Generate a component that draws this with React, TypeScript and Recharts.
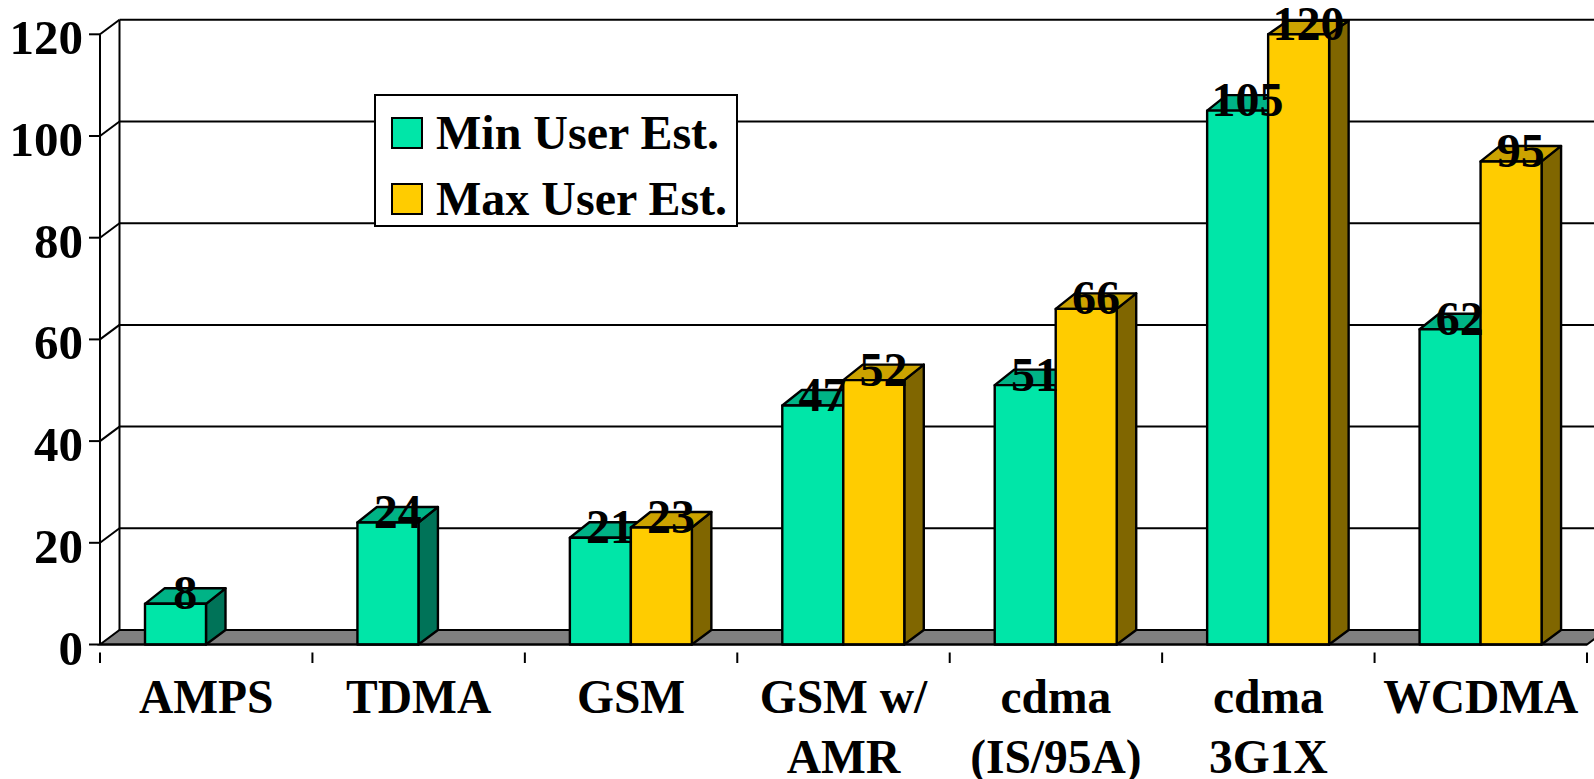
import React from "react";
import { Bar, BarChart, CartesianGrid, LabelList, Legend, XAxis, YAxis } from "recharts";

// Chart data
const categories = ["AMPS", "TDMA", "GSM", "GSM w/\nAMR", "cdma\n(IS/95A)", "cdma\n3G1X", "WCDMA"];
const minUsers = [8, 24, 21, 47, 51, 105, 62];
const maxUsers = [null, null, 23, 52, 66, 120, 95];
const yTicks = [0, 20, 40, 60, 80, 100, 120];

const rows = categories.map((name, i) => ({ name, min: minUsers[i], max: maxUsers[i] }));

// Drawing constants
const WIDTH = 1594;
const HEIGHT = 779;
const LEFT = 100;
const RIGHT_GAP = 7;
const TOP = 34.3;
const BOTTOM_GAP = 134.5;
const BAND = (WIDTH - LEFT - RIGHT_GAP) / categories.length;
const DEPTH_X = 19.5;
const DEPTH_Y = 14.5;
const BAR_DEPTH_Y = 15.5;
const BACK_TOP = TOP - DEPTH_Y;
const FONT = '"Liberation Serif", "Times New Roman", serif';
const FONT_SIZE = 47.5;
const LABEL_SIZE = 48;
const TICK_SIZE = 49;
const LINE = 2;
const BAR_LINE = 2.4;

const MIN_COLORS = { front: "#00E6A8", top: "#00B386", side: "#007358" };
const MAX_COLORS = { front: "#FFCC00", top: "#CCA300", side: "#806600" };

// Back wall line, set one depth step behind the value axis
function BackWallLine(props: any) {
  return (
    <line
      x1={LEFT + DEPTH_X}
      x2={LEFT + DEPTH_X}
      y1={BACK_TOP}
      y2={HEIGHT - BOTTOM_GAP - DEPTH_Y}
      stroke="#000"
      strokeWidth={LINE}
      key={props.key}
    />
  );
}

// Each gridline runs along the back wall and folds down the side wall; the zero line is the floor
function WallGridLine(props: any) {
  const { y1, key } = props;
  const isFloor = Math.abs(y1 - (HEIGHT - BOTTOM_GAP)) < 0.5;
  const xEnd = WIDTH - RIGHT_GAP;
  if (isFloor) {
    return (
      <polygon
        key={key}
        points={`${LEFT},${y1} ${LEFT + DEPTH_X},${y1 - DEPTH_Y} ${xEnd + DEPTH_X},${y1 - DEPTH_Y} ${xEnd},${y1}`}
        fill="#808080"
        stroke="#000"
        strokeWidth={LINE}
      />
    );
  }
  return (
    <g key={key}>
      <line x1={LEFT} y1={y1} x2={LEFT + DEPTH_X} y2={y1 - DEPTH_Y} stroke="#000" strokeWidth={LINE} />
      <line x1={LEFT + DEPTH_X} y1={y1 - DEPTH_Y} x2={WIDTH} y2={y1 - DEPTH_Y} stroke="#000" strokeWidth={LINE} />
    </g>
  );
}

function makeBox3D(colors: { front: string; top: string; side: string }) {
  return function Box3D(props: any) {
    const { x, y, width, height, value } = props;
    if (value == null || !height) return <g />;
    const val = Array.isArray(value) ? value[1] : value;
    if (val == null) return <g />;
    const bottom = y + height;
    const backY = Math.max(y - BAR_DEPTH_Y, BACK_TOP + 1);
    const right = x + width;
    return (
      <g stroke="#000" strokeWidth={BAR_LINE} strokeLinejoin="round">
        <polygon
          points={`${right},${y} ${right + DEPTH_X},${backY} ${right + DEPTH_X},${bottom - DEPTH_Y} ${right},${bottom}`}
          fill={colors.side}
        />
        <polygon
          points={`${x},${y} ${x + DEPTH_X},${backY} ${right + DEPTH_X},${backY} ${right},${y}`}
          fill={colors.top}
        />
        <rect x={x} y={y} width={width} height={height} fill={colors.front} />
      </g>
    );
  };
}

function ValueLabel(props: any) {
  const { x, y, width, value } = props;
  if (value == null) return null;
  return (
    <text
      x={x + width / 2 + DEPTH_X / 2}
      y={y + 5.5}
      textAnchor="middle"
      fontFamily={FONT}
      fontWeight="bold"
      fontSize={LABEL_SIZE}
      fill="#000"
    >
      {value}
    </text>
  );
}

function ValueTick(props: any) {
  const { y, payload } = props;
  return (
    <text x={83} y={y + 20} textAnchor="end" fontFamily={FONT} fontWeight="bold" fontSize={TICK_SIZE} fill="#000">
      {payload.value}
    </text>
  );
}

function CategoryTick(props: any) {
  const { x, y, payload, index } = props;
  const lines = String(payload.value).split("\n");
  const axisY = y;
  const left = x - BAND / 2;
  const isLast = index === categories.length - 1;
  return (
    <g>
      <line x1={left} x2={left} y1={axisY} y2={axisY + 10.5} stroke="#000" strokeWidth={LINE} />
      {isLast && <line x1={left + BAND} x2={left + BAND} y1={axisY} y2={axisY + 10.5} stroke="#000" strokeWidth={LINE} />}
      {lines.map((line, i) => (
        <text
          key={line}
          x={x}
          y={713 + i * 60}
          textAnchor="middle"
          fontFamily={FONT}
          fontWeight="bold"
          fontSize={FONT_SIZE}
          fill="#000"
        >
          {line}
        </text>
      ))}
    </g>
  );
}

function LegendBox(props: any) {
  const entries = (props.payload || []).slice(0, 2);
  return (
    <div
      style={{
        position: "relative",
        width: 364,
        height: 133,
        boxSizing: "border-box",
        background: "#fff",
        border: "2px solid #000",
        fontFamily: FONT,
        fontWeight: "bold",
        fontSize: LABEL_SIZE,
        color: "#000",
      }}
    >
      {entries.map((entry: any, i: number) => (
        <React.Fragment key={entry.value}>
          <div
            style={{
              position: "absolute",
              left: 15,
              top: 21 + i * 66,
              width: 32,
              height: 32,
              boxSizing: "border-box",
              background: entry.color,
              border: "2px solid #000",
            }}
          />
          <div
            style={{
              position: "absolute",
              left: 60,
              top: 10 + i * 66,
              lineHeight: "54px",
              whiteSpace: "nowrap",
            }}
          >
            {entry.value}
          </div>
        </React.Fragment>
      ))}
    </div>
  );
}

export default function App() {
  return (
    <div style={{ position: "absolute", left: 0, top: 0, width: WIDTH, height: HEIGHT, overflow: "hidden" }}>
      <BarChart
        width={WIDTH}
        height={HEIGHT}
        data={rows}
        margin={{ top: TOP, right: RIGHT_GAP, bottom: 0, left: 0 }}
        barSize={61}
        barGap={0}
      >
        <CartesianGrid
          horizontal={WallGridLine}
          vertical={BackWallLine}
          verticalCoordinatesGenerator={() => [LEFT]}
          stroke="#000"
        />
        <XAxis
          dataKey="name"
          interval={0}
          height={BOTTOM_GAP}
          tick={CategoryTick}
          tickLine={false}
          axisLine={{ stroke: "#000", strokeWidth: LINE }}
        />
        <YAxis
          domain={[0, 120]}
          ticks={yTicks}
          width={LEFT}
          tick={ValueTick}
          tickSize={11}
          tickLine={{ stroke: "#000", strokeWidth: LINE }}
          axisLine={{ stroke: "#000", strokeWidth: LINE }}
        />
        <Legend
          layout="vertical"
          align="center"
          verticalAlign="middle"
          itemSorter={null}
          content={LegendBox}
          wrapperStyle={{ left: 374, top: 93.5, width: 364, height: 133 }}
        />
        <Bar dataKey="min" name="Min User Est." fill={MIN_COLORS.front} shape={makeBox3D(MIN_COLORS)} isAnimationActive={false}>
          <LabelList dataKey="min" content={ValueLabel} />
        </Bar>
        <Bar dataKey="max" name="Max User Est." fill={MAX_COLORS.front} shape={makeBox3D(MAX_COLORS)} isAnimationActive={false}>
          <LabelList dataKey="max" content={ValueLabel} />
        </Bar>
      </BarChart>
    </div>
  );
}
